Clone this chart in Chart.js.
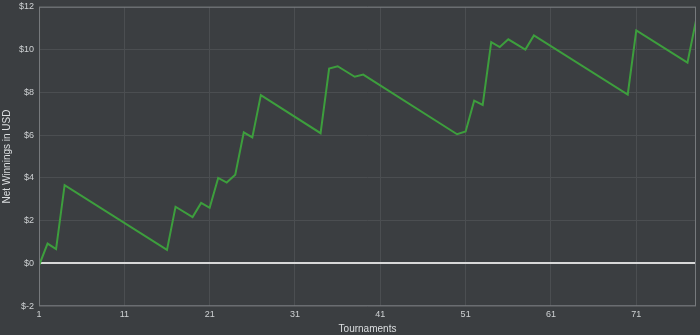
<!DOCTYPE html>
<html>
<head>
<meta charset="utf-8">
<script src="https://cdn.jsdelivr.net/npm/chart.js@4"></script>
<style>
    html, body { margin: 0; padding: 0; background: #3b3e41; }
    #wrap { width: 700px; height: 335px; position: relative; }
</style>
</head>
<body>
<div id="wrap"><canvas id="winnings"></canvas></div>
<script>
// Tournament numbers where the running total changes direction
var tournaments = [1, 2, 3, 4, 16, 17, 19, 20, 21, 22, 23, 24, 25, 26, 27, 34, 35, 36, 38, 39,
    50, 51, 52, 53, 54, 55, 56, 58, 59, 70, 71, 77, 78];
// Net winnings (USD) at those tournaments
var winnings = [-0.1, 0.93, 0.67, 3.66, 0.63, 2.65, 2.17, 2.83, 2.6, 4.0, 3.78, 4.15, 6.13, 5.89, 7.87, 6.09, 9.11, 9.22, 8.73, 8.83,
    6.04, 6.17, 7.61, 7.41, 10.35, 10.12, 10.48, 10.0, 10.66, 7.9, 10.9, 9.39, 11.36];
var xTicks = [1, 11, 21, 31, 41, 51, 61, 71];
var yTicks = [-2, 0, 2, 4, 6, 8, 10, 12];

var points = tournaments.map((t, i) => ({ x: t, y: winnings[i] }));

// frame round the plot area
var frame = {
    id: 'frame',
    afterDraw(chart) {
        var a = chart.chartArea;
        var ctx = chart.ctx;
        ctx.save();
        ctx.strokeStyle = '#777a7d';
        ctx.lineWidth = 1;
        ctx.strokeRect(a.left + 0.5, a.top + 0.5, a.right - a.left - 1, a.bottom - a.top - 1);
        ctx.restore();
    }
};

new Chart(document.getElementById('winnings'), {
    type: 'line',
    data: {
        datasets: [{
            data: points,
            borderColor: '#3d9e3d',
            borderWidth: 2,
            pointRadius: 0,
            tension: 0
        }]
    },
    plugins: [frame],
    options: {
        responsive: true,
        maintainAspectRatio: false,
        animation: false,
        layout: { padding: { top: -3, right: 4, left: 1, bottom: 0 } },
        plugins: {
            legend: { display: false },
            tooltip: { enabled: false }
        },
        scales: {
            x: {
                type: 'linear',
                min: 1,
                max: 78,
                afterBuildTicks: axis => { axis.ticks = xTicks.map(v => ({ value: v })); },
                grid: { color: '#4b4e51', drawTicks: false },
                border: { display: false },
                ticks: {
                    color: '#cfd2d4',
                    padding: 3,
                    maxRotation: 0,
                    font: { family: 'Liberation Sans', size: 9 }
                },
                title: {
                    display: true,
                    text: 'Tournaments',
                    color: '#dcdfe1',
                    padding: { top: 0, bottom: 0 },
                    font: { family: 'Liberation Sans', size: 10 }
                }
            },
            y: {
                min: -2,
                max: 12,
                afterBuildTicks: axis => { axis.ticks = yTicks.map(v => ({ value: v })); },
                grid: {
                    drawTicks: false,
                    color: ctx => ctx.tick && ctx.tick.value === 0 ? '#d8d8d8' : '#4b4e51',
                    lineWidth: ctx => ctx.tick && ctx.tick.value === 0 ? 2 : 1
                },
                border: { display: false },
                ticks: {
                    color: '#cfd2d4',
                    padding: 5,
                    font: { family: 'Liberation Sans', size: 9, lineHeight: 0.4 },
                    callback: function (value) {
                        return '$' + value;
                    }
                },
                title: {
                    display: true,
                    text: 'Net Winnings in USD',
                    color: '#dcdfe1',
                    padding: { top: 0, bottom: 1 },
                    font: { family: 'Liberation Sans', size: 10 }
                }
            }
        }
    }
});
</script>
</body>
</html>
